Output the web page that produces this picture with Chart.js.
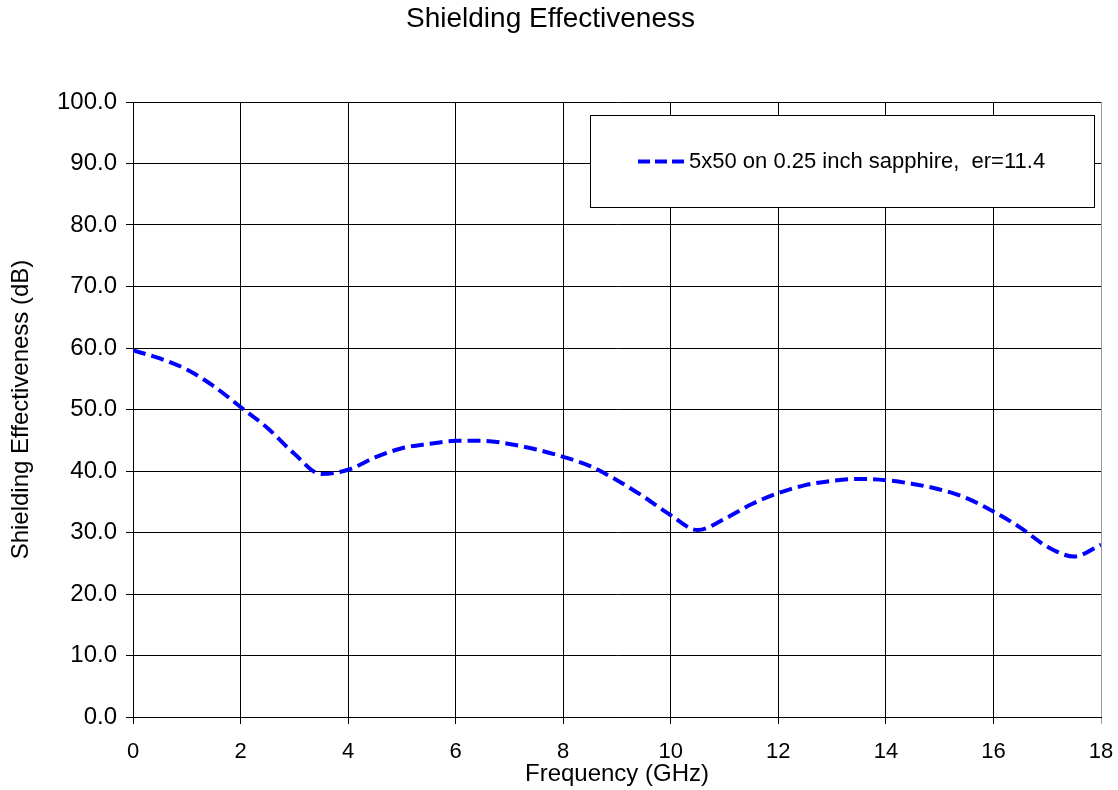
<!DOCTYPE html>
<html>
<head>
<meta charset="utf-8">
<script src="https://cdn.jsdelivr.net/npm/chart.js@4/dist/chart.umd.min.js"></script>
<style>
  html, body { margin: 0; padding: 0; background: #fff; }
  #wrap { width: 1118px; height: 790px; }
</style>
</head>
<body>
<div id="wrap"><canvas id="c" width="1118" height="790"></canvas></div>
<script>
const chartTitle = "Shielding Effectiveness";
const xAxisTitle = "Frequency (GHz)";
const yAxisTitle = "Shielding Effectiveness (dB)";
const seriesLabel = "5x50 on 0.25 inch sapphire,  er=11.4";
const freqGHz = [0, 0.5, 1.0, 1.5, 2.0, 2.5, 3.0, 3.5, 4.0, 4.5, 5.0, 5.5, 6.0, 6.5, 7.0, 7.5, 8.0, 8.5, 9.0, 9.5, 10.0, 10.5, 11.0, 11.5, 12.0, 12.5, 13.0, 13.5, 14.0, 14.5, 15.0, 15.5, 16.0, 16.5, 17.0, 17.5, 18.0];
const seDb = [59.6, 58.3, 56.5, 53.8, 50.4, 47.0, 42.8, 39.5, 40.2, 42.2, 43.7, 44.4, 44.9, 44.9, 44.4, 43.5, 42.3, 40.8, 38.5, 35.8, 32.8, 30.4, 32.2, 34.6, 36.4, 37.7, 38.4, 38.7, 38.5, 37.9, 37.0, 35.6, 33.4, 30.8, 27.7, 26.1, 28.0];
const xTicks = [0, 2, 4, 6, 8, 10, 12, 14, 16, 18];
const yTicks = [0, 10, 20, 30, 40, 50, 60, 70, 80, 90, 100];

const FONT = "'Liberation Sans', Arial, sans-serif";
const LINE_COLOR = '#0000FF';
const LINE_DASH = [13, 6];

const legendBoxPlugin = {
  id: 'legendBox',
  afterDraw(chart) {
    const ctx = chart.ctx;
    const x0 = 590.5, y0 = 115.5, w = 504, h = 92;
    ctx.save();
    ctx.fillStyle = '#fff';
    ctx.fillRect(x0, y0, w, h);
    ctx.strokeStyle = '#000';
    ctx.lineWidth = 1;
    ctx.strokeRect(x0, y0, w, h);
    const cy = y0 + h / 2;
    ctx.strokeStyle = LINE_COLOR;
    ctx.lineWidth = 4;
    ctx.setLineDash([12, 5]);
    ctx.beginPath();
    ctx.moveTo(638, cy);
    ctx.lineTo(686, cy);
    ctx.stroke();
    ctx.setLineDash([]);
    ctx.fillStyle = '#000';
    ctx.font = "22px " + FONT;
    ctx.textAlign = 'left';
    ctx.textBaseline = 'middle';
    ctx.fillText(chart.data.datasets[0].label, 689, cy);
    ctx.restore();
  }
};

new Chart(document.getElementById('c'), {
  type: 'line',
  data: {
    datasets: [{
      label: seriesLabel,
      data: freqGHz.map((f, i) => ({ x: f, y: seDb[i] })),
      borderColor: LINE_COLOR,
      borderWidth: 4,
      borderDash: LINE_DASH,
      pointRadius: 0,
      tension: 0.4,
      cubicInterpolationMode: 'monotone',
      fill: false
    }]
  },
  options: {
    responsive: false,
    animation: false,
    devicePixelRatio: 1,
    layout: { padding: { left: 0, right: 17, top: 0, bottom: 0 } },
    plugins: {
      legend: { display: false },
      tooltip: { enabled: false },
      title: {
        display: true,
        text: chartTitle,
        color: '#000',
        font: { family: FONT, size: 28, weight: 'normal' },
        padding: { top: 2, bottom: 66.4 }
      }
    },
    scales: {
      x: {
        type: 'linear',
        min: 0, max: 18,
        afterBuildTicks(scale) { scale.ticks = xTicks.map(v => ({ value: v })); },
        afterFit(scale) { scale.height = 73; scale.paddingLeft = 0; scale.paddingRight = 0; },
        ticks: {
          color: '#000',
          font: { family: FONT, size: 22 },
          padding: 15,
          maxRotation: 0,
          callback: v => String(v)
        },
        grid: {
          color: ctx => (ctx.tick && ctx.tick.value === 18) ? '#999' : '#000',
          lineWidth: 1,
          tickLength: 7,
          drawTicks: true
        },
        border: { display: true, color: '#000', width: 1 },
        title: {
          display: true,
          text: xAxisTitle,
          color: '#000',
          font: { family: FONT, size: 24 },
          padding: { top: 0, bottom: 1 }
        }
      },
      y: {
        type: 'linear',
        min: 0, max: 100,
        afterBuildTicks(scale) { scale.ticks = yTicks.map(v => ({ value: v })); },
        afterFit(scale) { scale.width = 133; scale.paddingTop = 0; scale.paddingBottom = 0; },
        ticks: {
          color: '#000',
          font: { family: FONT, size: 24 },
          padding: 9,
          callback: v => Number(v).toFixed(1)
        },
        grid: {
          color: '#000',
          lineWidth: 1,
          tickLength: 7,
          drawTicks: true
        },
        border: { display: true, color: '#000', width: 1 },
        title: {
          display: true,
          text: yAxisTitle,
          color: '#000',
          font: { family: FONT, size: 24 },
          padding: { top: 7, bottom: 0 }
        }
      }
    }
  },
  plugins: [legendBoxPlugin]
});
</script>
</body>
</html>
